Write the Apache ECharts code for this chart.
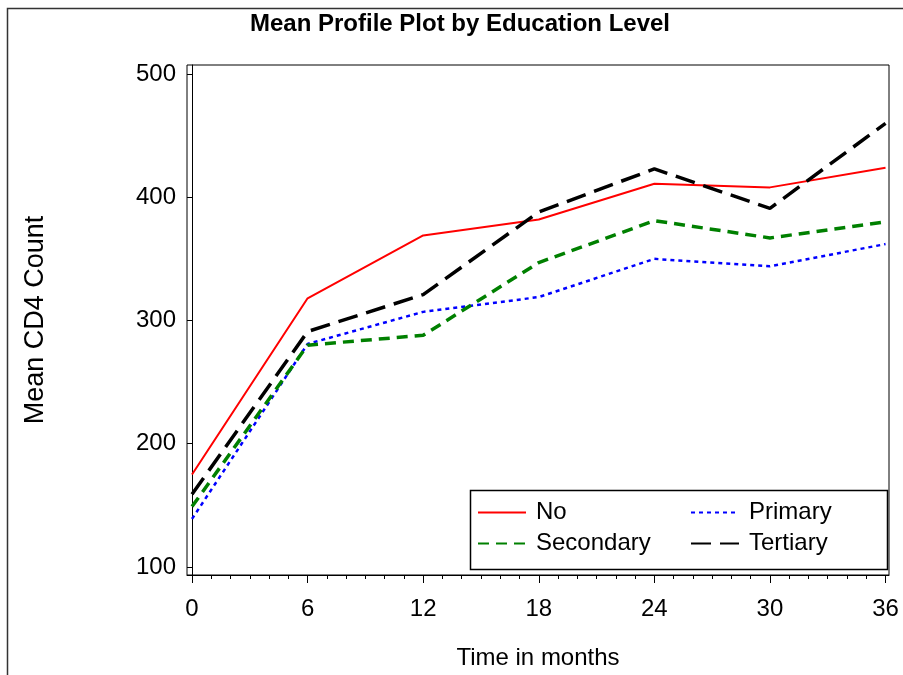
<!DOCTYPE html>
<html>
<head>
<meta charset="utf-8">
<script src="https://cdn.jsdelivr.net/npm/echarts@6/dist/echarts.min.js"></script>
<style>
html,body{margin:0;padding:0;background:#fff;}
#chart{width:903px;height:675px;}
</style>
</head>
<body>
<div id="chart"></div>
<script>
var months = [0, 6, 12, 18, 24, 30, 36];
var noEdu = [175, 318, 369, 382, 411, 408, 424];
var primaryEdu = [139, 281, 307, 319, 350, 344, 362];
var secondaryEdu = [149, 280, 288, 347, 381, 367, 380];
var tertiaryEdu = [159, 291, 321, 388, 423, 391, 460];
var xTickLabels = [0, 6, 12, 18, 24, 30, 36];
var xMinorTicks = [1,2,3,4,5,7,8,9,10,11,13,14,15,16,17,19,20,21,22,23,25,26,27,28,29,31,32,33,34,35];
var yTickLabels = [100, 200, 300, 400, 500];

var FONT = '"Liberation Sans", Arial, sans-serif';

function pairs(vals) {
  return months.map(function (m, i) { return [m, vals[i]]; });
}

var chart = echarts.init(document.getElementById('chart'), null, {renderer: 'canvas'});

var legendCommon = {
  orient: 'vertical',
  top: 497,
  padding: 0,
  itemWidth: 48, itemHeight: 14, itemGap: 0,
  itemStyle: {opacity: 0},
  textStyle: {fontFamily: FONT, fontSize: 24, color: '#000', lineHeight: 31, padding: [0, 0, 0, 5]},
  selectedMode: false
};

var option = {
  backgroundColor: '#fff',
  animation: false,
  title: {
    text: 'Mean Profile Plot by Education Level',
    left: 455,
    top: 7,
    textAlign: 'center',
    textStyle: {fontFamily: FONT, fontWeight: 'bold', fontSize: 24, color: '#000'}
  },
  grid: {
    left: 187, top: 65, width: 702, height: 510,
    show: true, borderColor: '#000', borderWidth: 1, backgroundColor: 'transparent'
  },
  legend: [
    Object.assign({}, legendCommon, {data: ['No', 'Secondary'], left: 477}),
    Object.assign({}, legendCommon, {data: ['Primary', 'Tertiary'], left: 690})
  ],
  xAxis: [
    {
      type: 'value', min: -0.26, max: 36.18,
      name: 'Time in months', nameLocation: 'middle', nameGap: 71,
      nameTextStyle: {fontFamily: FONT, fontSize: 24, color: '#000'},
      axisLine: {show: true, lineStyle: {color: '#000', width: 1}},
      axisTick: {show: true, length: 8, customValues: xTickLabels, lineStyle: {color: '#000', width: 1}},
      axisLabel: {customValues: xTickLabels, margin: 22, fontFamily: FONT, fontSize: 24, color: '#000'},
      splitLine: {show: false}
    },
    {
      type: 'value', min: -0.26, max: 36.18, position: 'bottom',
      axisLine: {show: false},
      axisTick: {show: true, length: 4, customValues: xMinorTicks, lineStyle: {color: '#000', width: 1}},
      axisLabel: {show: false},
      splitLine: {show: false}
    }
  ],
  yAxis: {
    type: 'value', min: 93.5, max: 507.3,
    name: 'Mean CD4 Count', nameLocation: 'middle', nameGap: 138, nameRotate: 90,
    nameTextStyle: {fontFamily: FONT, fontSize: 27, color: '#000'},
    axisLine: {show: true, lineStyle: {color: '#000', width: 1}},
    axisTick: {show: true, length: 5, customValues: yTickLabels, lineStyle: {color: '#000', width: 1}},
    axisLabel: {customValues: yTickLabels, margin: 11, fontFamily: FONT, fontSize: 24, color: '#000'},
    splitLine: {show: false}
  },
  series: [
    {
      name: 'No', type: 'line', data: pairs(noEdu), symbol: 'none',
      lineStyle: {color: '#ff0000', width: 2, type: 'solid'},
      itemStyle: {color: '#ff0000'}
    },
    {
      name: 'Primary', type: 'line', data: pairs(primaryEdu), symbol: 'none',
      lineStyle: {color: '#0000ff', width: 2.5, type: [4, 4]},
      itemStyle: {color: '#0000ff'}
    },
    {
      name: 'Secondary', type: 'line', data: pairs(secondaryEdu), symbol: 'none',
      lineStyle: {color: '#008000', width: 3.5, type: [11, 7]},
      itemStyle: {color: '#008000'}
    },
    {
      name: 'Tertiary', type: 'line', data: pairs(tertiaryEdu), symbol: 'none',
      lineStyle: {color: '#000000', width: 3.5, type: [20, 9]},
      itemStyle: {color: '#000000'}
    }
  ],
  graphic: [
    {
      type: 'rect', left: 5, top: 6, silent: true,
      shape: {x: 0, y: 0, width: 920, height: 700},
      style: {fill: 'none', stroke: '#333', lineWidth: 1.5}
    },
    {
      type: 'rect', left: 468, top: 488, silent: true, z: 10,
      shape: {x: 0, y: 0, width: 417, height: 79},
      style: {fill: 'none', stroke: '#000', lineWidth: 1.5}
    }
  ]
};

chart.setOption(option);
</script>
</body>
</html>
